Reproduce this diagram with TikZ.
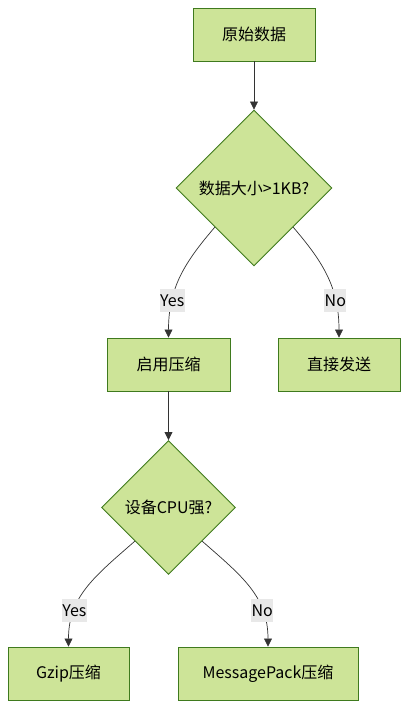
\documentclass[tikz,border=0pt]{standalone}
\usepackage{fontspec}
\setmainfont{Noto Sans CJK SC}
\usepackage{tikz}
\usetikzlibrary{shapes.geometric, arrows.meta}
\definecolor{leaf}{HTML}{CDE498}
\definecolor{leafline}{HTML}{3F7A1E}
\definecolor{edgeline}{HTML}{333333}
\definecolor{tagbg}{HTML}{E8E8E8}

\begin{document}
\begin{tikzpicture}[x=1pt, y=-1pt, font=\fontsize{16}{19}\selectfont,
	box/.style={draw=leafline, fill=leaf, line width=0.9pt, minimum width=122pt, minimum height=53pt, inner sep=0pt},
	decide/.style={draw=leafline, fill=leaf, line width=0.9pt, diamond, aspect=1, inner sep=0pt},
	tag/.style={fill=tagbg, inner xsep=0.5pt, inner ysep=1pt, minimum height=23pt},
	arr/.style={draw=edgeline, line width=0.7pt, -{Triangle[length=8pt, width=8pt]}}]
	\useasboundingbox (0,0) rectangle (416,722);
	\node[box] (raw) at (254,34.5) {原始数据};
	\node[decide, minimum size=156pt] (size) at (254,188) {数据大小>1KB?};
	\node[box, minimum width=123pt] (enable) at (168.5,364.5) {启用压缩};
	\node[box] (direct) at (339,364.5) {直接发送};
	\node[decide, minimum size=134pt] (cpu) at (168.5,507.5) {设备CPU强?};
	\node[box, minimum width=121pt] (gzip) at (68.5,673.5) {Gzip压缩};
	\node[box, minimum width=180pt] (msgpack) at (268,673.5) {MessagePack压缩};
	\draw[arr] (raw.south) -- (size.north);
	\draw[arr] (size.south west) .. controls +(-30,35) and +(0,-50) .. (enable.north) node[tag, pos=0.72] {Yes};
	\draw[arr] (size.south east) .. controls +(30,35) and +(0,-50) .. (direct.north) node[tag, pos=0.72] {No};
	\draw[arr] (enable.south) -- (cpu.north);
	\draw[arr] (cpu.south west) .. controls +(-40,35) and +(0,-50) .. (gzip.north) node[tag, pos=0.72] {Yes};
	\draw[arr] (cpu.south east) .. controls +(40,35) and +(0,-50) .. (msgpack.north) node[tag, pos=0.72] {No};
\end{tikzpicture}
\end{document}
